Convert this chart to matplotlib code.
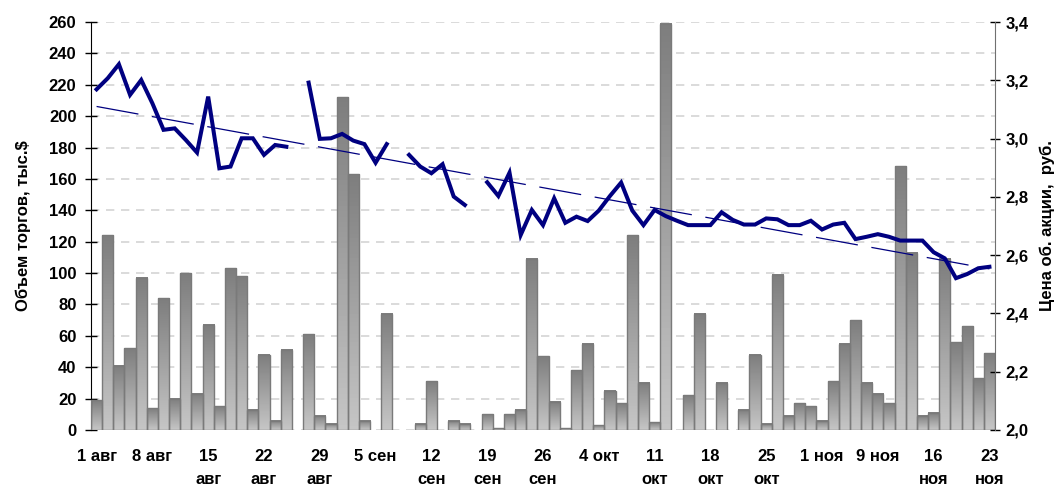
import matplotlib
matplotlib.use("Agg")
import matplotlib.pyplot as plt
from matplotlib.colors import LinearSegmentedColormap
import numpy as np

# trading days, one slot each; None = no trade that day
volume = [19, 124, 41, 52, 97, 14, 84, 20, 100, 23,
          67, 15, 103, 98, 13, 48, 6, 51, None, 61,
          9, 4, 212, 163, 6, None, 74, None, None, 4,
          31, None, 6, 4, None, 10, 1, 10, 13, 109,
          47, 18, 1, 38, 55, 3, 25, 17, 124, 30,
          5, 259, None, 22, 74, None, 30, None, 13, 48,
          4, 99, 9, 17, 15, 6, 31, 55, 70, 30,
          23, 17, 168, 113, 9, 11, 109, 56, 66, 33,
          49]

price = [3.169, 3.207, 3.255, 3.150, 3.201, 3.121, 3.030, 3.035, 2.995, 2.952,
         3.144, 2.898, 2.904, 3.001, 3.001, 2.944, 2.978, 2.972, None, 3.192,
         2.999, 3.001, 3.016, 2.993, 2.981, 2.917, 2.981, None, 2.944, 2.904,
         2.881, 2.912, 2.801, 2.772, None, 2.850, 2.803, 2.883, 2.669, 2.755,
         2.703, 2.795, 2.711, 2.732, 2.717, 2.753, 2.803, 2.849, 2.753, 2.703,
         2.755, 2.734, 2.718, 2.703, 2.703, 2.703, 2.747, 2.721, 2.705, 2.705,
         2.726, 2.723, 2.703, 2.703, 2.718, 2.688, 2.705, 2.711, 2.655, 2.663,
         2.672, 2.663, 2.650, 2.650, 2.650, 2.610, 2.589, 2.521, 2.535, 2.555,
         2.560]

date_labels = ["1 авг", "8 авг", "15\nавг", "22\nавг", "29\nавг", "5 сен",
               "12\nсен", "19\nсен", "26\nсен", "4 окт", "11\nокт", "18\nокт",
               "25\nокт", "1 ноя", "9 ноя", "16\nноя", "23\nноя"]

plt.rcParams['font.family'] = ['Liberation Sans', 'DejaVu Sans']
plt.rcParams['font.weight'] = 'bold'

n = len(volume)
x = np.arange(n)
vol = np.array([np.nan if v is None else v for v in volume], dtype=float)
pr = np.array([np.nan if p is None else p for p in price], dtype=float)

fig = plt.figure(figsize=(10.61, 4.91), dpi=100)
ax = fig.add_axes([91 / 1061, 1 - 430 / 491, 904 / 1061, 408 / 491])
ax2 = ax.twinx()

# bars with vertical gray gradient
cmap = LinearSegmentedColormap.from_list("g", ["#c6c6c6", "#7e7e7e"])
grad = np.linspace(0, 1, 64).reshape(-1, 1)
has = ~np.isnan(vol)
bars = ax.bar(x[has], vol[has], width=1.0, facecolor="none",
              edgecolor="#7a7a7a", linewidth=1.0, zorder=3)
for b in bars:
    x0 = b.get_x()
    ax.imshow(grad, extent=[x0, x0 + b.get_width(), 0, b.get_height()],
              origin="lower", aspect="auto", cmap=cmap, zorder=2)

ax.set_xlim(-0.5, n - 0.5)
ax.set_ylim(0, 260)
ax.set_yticks(np.arange(0, 261, 20))
ax.yaxis.grid(True, color="#d4d4d4", linestyle=(0, (5, 4)), linewidth=1.2, zorder=0)
ax.set_axisbelow(True)

# price line and linear trend
ok = ~np.isnan(pr)
k, c = np.polyfit(x[ok], pr[ok], 1)
ax2.plot(x, k * x + c, color="#000080", linewidth=0.9,
         linestyle=(0, (34, 11)), zorder=4)
ax2.plot(x, pr, color="#000080", linewidth=2.9, zorder=5,
         solid_joinstyle="miter")
ax2.set_ylim(2.0, 3.4)
ax2.set_yticks(np.arange(2.0, 3.41, 0.2))
ax2.set_yticklabels([f"{t:.1f}".replace(".", ",") for t in np.arange(2.0, 3.41, 0.2)])

ax.set_xticks(x[::5])
ax.set_xticklabels(date_labels, linespacing=1.6, va="top")

for a in (ax, ax2):
    a.spines["top"].set_visible(False)
    a.spines["bottom"].set_visible(False)
ax.spines["right"].set_visible(False)
ax2.spines["left"].set_visible(False)
ax.spines["left"].set_color("black")
ax2.spines["right"].set_color("#707070")

ax.tick_params(axis="x", length=0, pad=14, labelsize=12)
ax.tick_params(axis="y", direction="inout", length=9, width=1, pad=6, labelsize=12)
ax2.tick_params(axis="y", direction="inout", length=7, width=1, pad=4, labelsize=12)

ax.set_ylabel("Объем торгов, тыс.$", fontsize=12, fontweight="bold", labelpad=13)
ax2.set_ylabel("Цена об. акции,  руб.", fontsize=12, fontweight="bold",
               rotation=90, labelpad=8)

fig.savefig("out.png", dpi=100)
